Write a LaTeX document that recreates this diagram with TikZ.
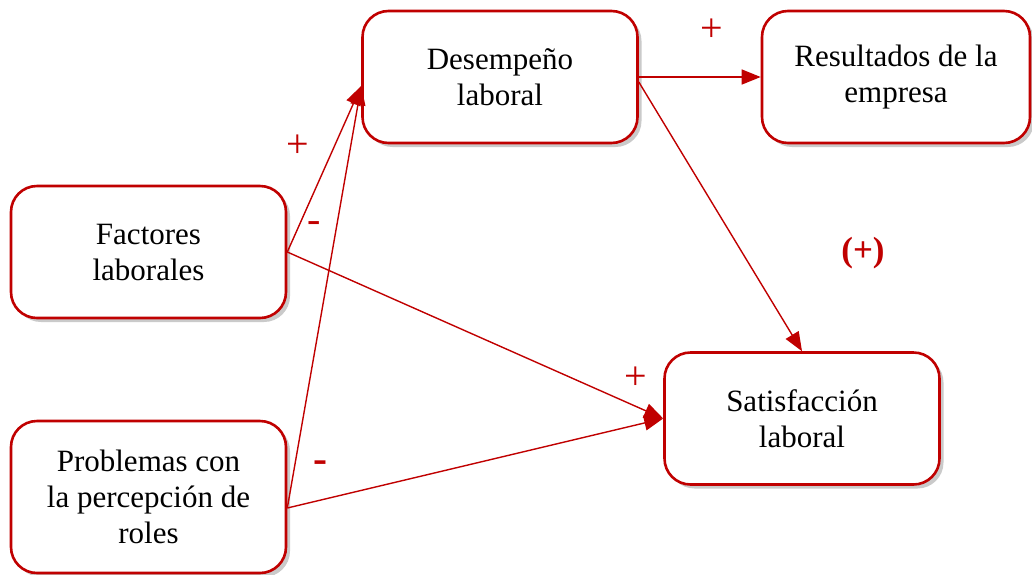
\documentclass[tikz,border=0pt]{standalone}
\usepackage{fontspec}
\setmainfont{Liberation Serif}
\usetikzlibrary{arrows.meta,shadows}
\definecolor{rojo}{RGB}{192,0,0}
\begin{document}
\begin{tikzpicture}[x=1pt,y=-1pt, %Escala en pixeles
	caja/.style={draw=rojo, line width=2.6pt, rounded corners=26pt, fill=white, align=center,
		minimum width=275pt, minimum height=132pt, font=\fontsize{31}{36}\selectfont,
		drop shadow={shadow xshift=4pt, shadow yshift=-4pt, opacity=0.35, fill=black!60}},
	flecha/.style={draw=rojo, line width=1.4pt, -{Triangle[length=19pt,width=15pt]}},
	signo/.style={text=rojo, font=\fontsize{40}{40}\selectfont}]
	\useasboundingbox (0,0) rectangle (1032,574);
		%Cajas
	\node[caja] (desemp) at (500,77) {Desempeño\\laboral};
	\node[caja, minimum width=268pt] (result) at (896,77) {Resultados de la\\empresa};
	\node[caja] (factor) at (148.5,252) {Factores\\laborales};
	\node[caja, minimum height=152pt] (problem) at (148.5,497) {Problemas con\\la percepción de\\roles};
	\node[caja] (satisf) at (802,418.5) {Satisfacción\\laboral};
		%Flechas
	\draw[flecha] (factor.east) -- ([yshift=-9pt]desemp.west);
	\draw[flecha] ([yshift=-11pt]problem.east) -- ([yshift=-9pt]desemp.west);
	\draw[flecha] (desemp.east) -- (result.west);
	\draw[flecha] ([yshift=-5pt]desemp.east) -- (satisf.north);
	\draw[flecha] (factor.east) -- (satisf.west);
	\draw[flecha] ([yshift=-11pt]problem.east) -- (satisf.west);
		%Signos
	\node[signo] (mas1) at (298,146) {+};
	\node[signo] (menos1) at (314,227) {-};
	\node[signo] (mas2) at (712,30) {+};
	\node[signo] (mas3) at (636,378) {+};
	\node[signo, font=\fontsize{42}{42}\selectfont\bfseries] (menos2) at (320,467) {-};
	\node[signo, font=\fontsize{35}{35}\selectfont\bfseries] (total) at (863,253) {(+)};
\end{tikzpicture}
\end{document}
